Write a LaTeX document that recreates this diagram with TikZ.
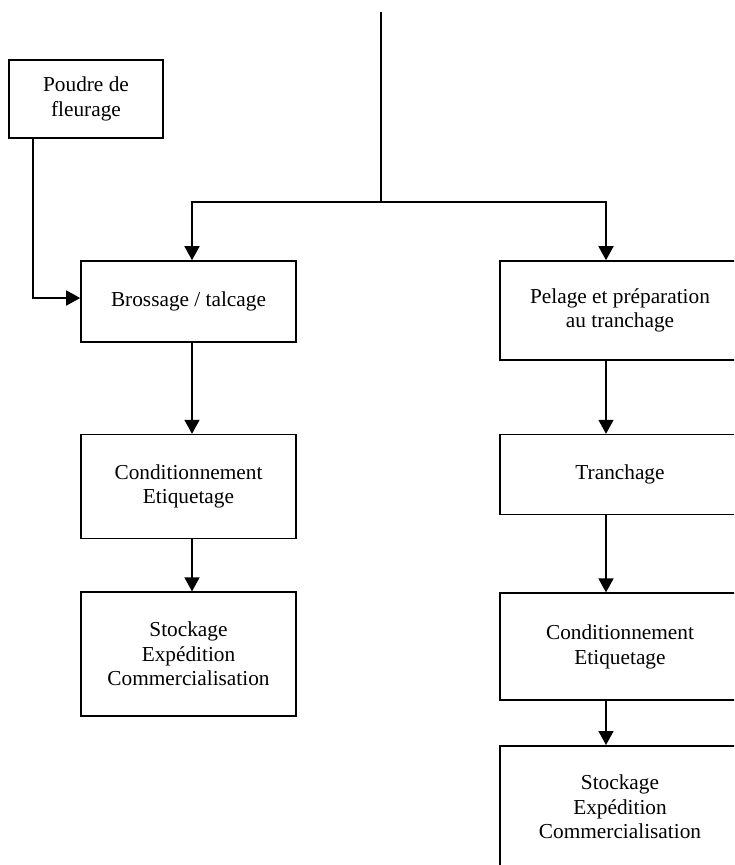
\documentclass[tikz,border=0pt]{standalone}
\usepackage{fontspec}
\setmainfont{Liberation Serif}
\usetikzlibrary{arrows.meta, positioning}

\begin{document}
\begin{tikzpicture}[x=1pt, y=-1pt, every node/.style={font=\fontsize{21.3}{24.5}\selectfont},
    box/.style={draw, rectangle, line width=1.6pt, align=center, inner sep=0pt},
    arr/.style={-{Triangle[length=14pt, width=15pt]}, line width=1.6pt}]
            \useasboundingbox (0,0) rectangle (734,865);
            \clip (0,0) rectangle (734,865);

            \node[box, minimum width=154pt, minimum height=78pt] (poudre) at (86,99) {Poudre de\\fleurage};

            % left column
            \node[box, minimum width=215pt, minimum height=81pt] (bross) at (188.5,301.5) {Brossage / talcage};
            \node[box, minimum width=215pt, minimum height=104pt, below=91pt of bross] (cond1) {Conditionnement\\Etiquetage};
            \node[box, minimum width=215pt, minimum height=124pt, below=52pt of cond1] (stock1) {Stockage\\Expédition\\Commercialisation};

            % right column
            \node[box, minimum width=240pt, minimum height=99pt] (pelage) at (620,310.5) {Pelage et préparation\\au tranchage};
            \node[box, minimum width=240pt, minimum height=80pt, below=73pt of pelage] (tranch) {Tranchage};
            \node[box, minimum width=240pt, minimum height=107pt, below=77pt of tranch] (cond2) {Conditionnement\\Etiquetage};
            \node[box, minimum width=240pt, minimum height=122pt, below=44pt of cond2] (stock2) {Stockage\\Expédition\\Commercialisation};

            \coordinate (top) at (381,12);
            \coordinate (split) at (381,202);
            \coordinate (lcol) at (192,0);
            \coordinate (rcol) at (606,0);
            \coordinate (pin) at (33,298);

            \draw[line width=1.6pt] (top) -- (split);
            \draw[arr] (split) -| (bross.north -| lcol);
            \draw[arr] (split) -| (pelage.north -| rcol);
            \draw[arr] (poudre.south -| pin) -- (pin) -- (bross.west |- pin);

            \draw[arr] (bross.south -| lcol) -- (cond1.north -| lcol);
            \draw[arr] (cond1.south -| lcol) -- (stock1.north -| lcol);
            \draw[arr] (pelage.south -| rcol) -- (tranch.north -| rcol);
            \draw[arr] (tranch.south -| rcol) -- (cond2.north -| rcol);
            \draw[arr] (cond2.south -| rcol) -- (stock2.north -| rcol);
        \end{tikzpicture}
\end{document}
